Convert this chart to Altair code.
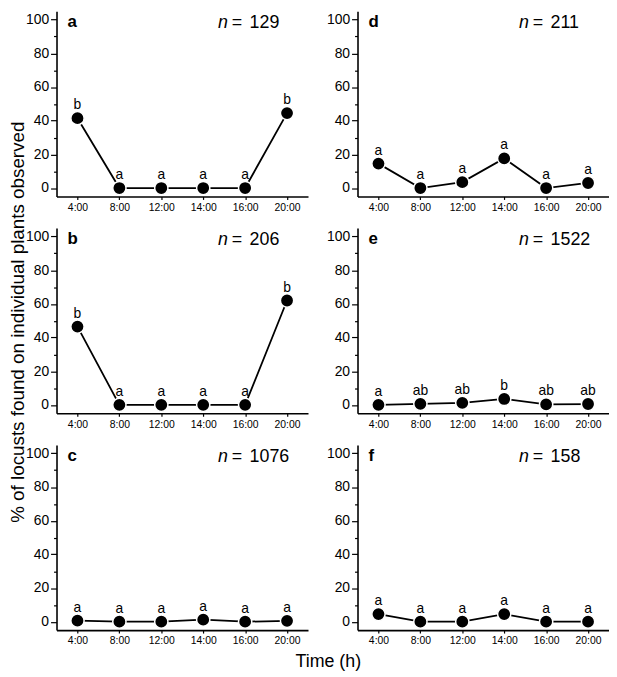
import altair as alt
import pandas as pd

times = ["4:00", "8:00", "12:00", "14:00", "16:00", "20:00"]
panel_ids = ["a", "b", "c", "d", "e", "f"]
n_values = [129, 206, 1076, 211, 1522, 158]

vals_a = [41.5, 0, 0, 0, 0, 44.5]
vals_b = [46.5, 0, 0, 0, 0, 62]
vals_c = [0.6, 0, 0, 1.2, 0, 0.5]
vals_d = [14.5, 0, 3.5, 17.6, 0, 3]
vals_e = [0, 0.6, 1.2, 3.5, 0.3, 0.5]
vals_f = [4.5, 0, 0, 4.5, 0, 0]

letters_a = ["b", "a", "a", "a", "a", "b"]
letters_b = ["b", "a", "a", "a", "a", "b"]
letters_c = ["a", "a", "a", "a", "a", "a"]
letters_d = ["a", "a", "a", "a", "a", "a"]
letters_e = ["a", "ab", "ab", "b", "ab", "ab"]
letters_f = ["a", "a", "a", "a", "a", "a"]

y_title = "% of locusts found on individual plants observed"
x_title = "Time (h)"

values = dict(zip(panel_ids, [vals_a, vals_b, vals_c, vals_d, vals_e, vals_f]))
letters = dict(zip(panel_ids, [letters_a, letters_b, letters_c, letters_d, letters_e, letters_f]))
ns = dict(zip(panel_ids, n_values))

FONT = "Liberation Sans"
W, H = 254, 187


def one(text):
    return alt.Chart(pd.DataFrame({"t": [text]}))


def panel(pid):
    df = pd.DataFrame({"time": times, "value": values[pid], "letter": letters[pid]})
    base = alt.Chart(df).encode(
        x=alt.X(
            "time:N",
            sort=times,
            scale=alt.Scale(type="point", padding=0.5),
            axis=alt.Axis(title=None, labelAngle=0, labelFontSize=10.5, tickSize=3, grid=False,
                          labelPadding=3, domainWidth=1.6, tickWidth=1.2),
        ),
        y=alt.Y(
            "value:Q",
            scale=alt.Scale(domain=[-5, 105], nice=False, zero=False),
            axis=alt.Axis(
                title=None,
                grid=False,
                values=list(range(0, 101, 10)),
                labelExpr="datum.value % 20 == 0 ? datum.label : ''",
                labelOverlap=False,
                labelFontSize=14,
                labelPadding=2,
                tickSize={"condition": {"test": "datum.value % 20 !== 0", "value": 3}, "value": 6},
                domainWidth=1.6,
                tickWidth=1.2,
            ),
        ),
    )
    line = base.mark_line(color="black", strokeWidth=1.8)
    pts = base.mark_circle(size=180, color="black", opacity=1, stroke="white", strokeWidth=1.5)
    lab = base.mark_text(dy=-9, baseline="alphabetic", fontSize=14, font=FONT, color="black").encode(
        text="letter:N")
    tag = one(pid).mark_text(align="left", baseline="alphabetic", fontSize=17, fontWeight="bold",
                             font=FONT, color="black").encode(x=alt.value(11), y=alt.value(16), text="t:N")
    n_it = one("n").mark_text(align="left", baseline="alphabetic", fontSize=18, fontStyle="italic",
                              font=FONT, color="black").encode(x=alt.value(163), y=alt.value(17), text="t:N")
    eq = one("=").mark_text(align="left", baseline="alphabetic", fontSize=18,
                            font=FONT, color="black").encode(x=alt.value(177), y=alt.value(17), text="t:N")
    num = one(str(ns[pid])).mark_text(align="left", baseline="alphabetic", fontSize=18,
                                      font=FONT, color="black").encode(x=alt.value(195), y=alt.value(17), text="t:N")
    layers = [line, pts, lab, tag, n_it, eq, num]
    if pid == "b":
        layers.append(one(y_title).mark_text(angle=270, align="center", baseline="middle", fontSize=19,
                                             font=FONT, color="black").encode(
            x=alt.value(-39), y=alt.value(95), text="t:N"))
    if pid == "c":
        layers.append(one(x_title).mark_text(align="center", baseline="alphabetic", fontSize=18,
                                             font=FONT, color="black").encode(
            x=alt.value(274.5), y=alt.value(224), text="t:N"))
    return alt.layer(*layers).properties(width=W, height=H)


order = ["a", "d", "b", "e", "c", "f"]
chart = (
    alt.concat(*[panel(p) for p in order], columns=2, spacing={"row": 32, "column": 50}, bounds="flush")
    .properties(padding=0, background="white")
    .configure_view(stroke=None)
    .configure_axis(grid=False, domainColor="black", tickColor="black", labelColor="black",
                    labelFont=FONT)
)

chart.save("out.html", embed_options={"renderer": "svg", "actions": False})
